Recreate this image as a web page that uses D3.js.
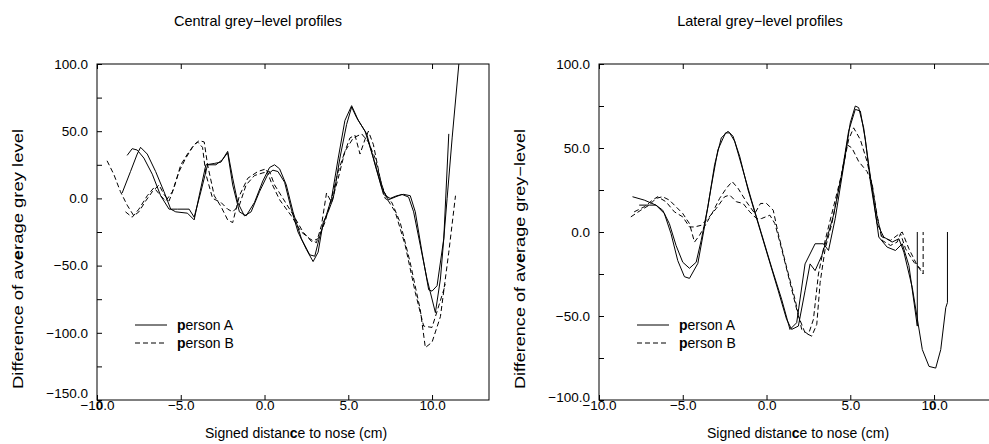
<!DOCTYPE html>
<html>
<head>
<meta charset="utf-8">
<script src="https://cdn.jsdelivr.net/npm/d3@7"></script>
<style>
body { margin: 0; background: #fff; }
svg text { font-family: "Liberation Sans", Arial, sans-serif; fill: #000; }
</style>
</head>
<body>
<div id="main"></div>
<script>
// x tick values shared by both panels
const xTicks = [-10, -5, 0, 5, 10];
const centralYTicks = [-150, -100, -50, 0, 50, 100];
const centralYMinor = [-125, -75, -25, 25, 75];
const lateralYTicks = [-100, -50, 0, 50, 100];
const lateralYMinor = [-75, -25, 25, 75];

// central profiles, person A (solid)
const centralA1 = [[-8.5,4],[-8.0,20],[-7.6,33],[-7.4,38],[-7.0,33],[-6.5,20],[-6.0,5],[-5.6,-8],[-5.3,-10],[-4.6,-11],[-4.2,-16],[-3.9,2],[-3.5,25],[-3.0,26],[-2.6,27],[-2.2,35],[-1.9,15],[-1.6,-3],[-1.2,-13],[-0.8,-10],[-0.3,5],[0.2,18],[0.5,21],[0.8,20],[1.2,12],[1.6,-8],[2.0,-25],[2.5,-38],[2.9,-47],[3.2,-40],[3.5,-18],[3.8,-10],[4.1,0],[4.5,30],[4.9,55],[5.2,68],[5.5,60],[6.0,50],[6.5,30],[7.0,8],[7.4,-1],[7.8,1],[8.2,3],[8.6,1],[8.9,-10],[9.3,-35],[9.7,-60],[10.2,-85],[10.5,-60],[10.9,0],[11.2,45],[11.6,100]];
const centralA2 = [[-8.2,32],[-7.9,37],[-7.6,36],[-7.2,30],[-6.7,18],[-6.2,2],[-5.7,-8],[-5.2,-8],[-4.5,-8],[-4.2,-14],[-3.8,5],[-3.4,25],[-2.9,25],[-2.5,29],[-2.2,34],[-1.9,10],[-1.5,-10],[-1.1,-13],[-0.6,-3],[-0.1,13],[0.3,23],[0.6,25],[0.9,22],[1.3,10],[1.7,-10],[2.2,-30],[2.7,-42],[3.0,-43],[3.3,-28],[3.7,-12],[4.0,0],[4.4,30],[4.8,58],[5.2,69],[5.6,58],[6.1,48],[6.6,25],[7.1,3],[7.5,0],[7.9,2],[8.3,3],[8.7,2],[9.0,-10],[9.4,-40],[9.8,-68],[10.0,-69],[10.3,-65],[10.7,-30],[11.0,48]];
// central profiles, person B (dashed)
const centralB1 = [[-9.4,28],[-9.0,18],[-8.6,5],[-8.2,-5],[-7.8,-13],[-7.5,-10],[-7.1,-2],[-6.7,5],[-6.3,10],[-6.0,3],[-5.7,-2],[-5.4,8],[-5.0,25],[-4.6,33],[-4.2,40],[-3.9,43],[-3.6,42],[-3.4,25],[-3.0,2],[-2.6,-6],[-2.2,-16],[-1.9,-18],[-1.5,2],[-1.0,15],[-0.4,20],[0.1,22],[0.4,12],[0.9,-1],[1.6,-13],[2.2,-25],[2.7,-30],[3.1,-33],[3.4,-20],[3.7,4],[4.0,-3],[4.4,15],[4.8,35],[5.1,45],[5.4,47],[5.7,33],[6.0,44],[6.2,50],[6.5,40],[6.9,15],[7.2,0],[7.6,-3],[8.1,-18],[8.7,-48],[9.3,-83],[9.6,-111],[10.0,-107],[10.5,-88],[11.0,-40],[11.4,2]];
const centralB2 = [[-8.3,-10],[-7.9,-14],[-7.5,-8],[-7.0,2],[-6.6,8],[-6.2,2],[-5.9,-2],[-5.5,5],[-5.1,20],[-4.7,30],[-4.3,38],[-4.0,42],[-3.7,38],[-3.5,18],[-3.1,0],[-2.6,-3],[-2.2,-8],[-1.9,-10],[-1.5,-5],[-1.1,10],[-0.6,17],[-0.1,19],[0.3,20],[0.6,10],[1.1,0],[1.7,-12],[2.3,-25],[2.8,-32],[3.2,-30],[3.6,-18],[4.0,0],[4.4,20],[4.8,35],[5.3,45],[5.8,48],[6.2,42],[6.6,30],[7.0,10],[7.3,0],[7.8,-10],[8.4,-35],[9.0,-70],[9.5,-95],[10.0,-96],[10.4,-80],[10.8,-64]];

// lateral profiles, person A (solid)
const lateralA1 = [[-8.0,21],[-7.3,19],[-6.6,16],[-6.1,11],[-5.7,-1],[-5.3,-17],[-4.9,-26.6],[-4.6,-27.6],[-4.1,-18.7],[-3.74,1],[-3.3,27],[-2.9,49],[-2.45,59],[-2.2,59],[-1.9,54],[-1.5,40],[-0.9,19],[-0.3,-1],[0.3,-21],[0.9,-40],[1.4,-58],[1.8,-54],[2.3,-19],[2.9,-7],[3.4,-7],[3.7,-11],[4.1,8],[4.6,39],[5.0,65],[5.3,75],[5.5,74],[5.8,62],[6.1,40],[6.4,19],[6.7,-3],[7.2,-9],[7.7,-11],[8.1,-7],[8.5,-20],[9.0,-56],[9.0,0]];
const lateralA2 = [[-7.6,16],[-7.0,16],[-6.6,16],[-6.2,13],[-5.8,5],[-5.4,-8],[-5.0,-18],[-4.6,-21.6],[-4.2,-18],[-3.9,-5],[-3.5,15],[-3.1,40],[-2.7,56],[-2.3,60],[-2.0,57],[-1.6,45],[-1.1,25],[-0.5,5],[0.1,-15],[0.7,-35],[1.2,-52],[1.5,-58],[1.9,-56],[2.3,-35],[2.6,-19],[2.9,-23],[3.3,-14],[3.6,-4],[4.0,10],[4.5,35],[4.9,60],[5.3,73],[5.6,72],[5.9,55],[6.2,30],[6.6,5],[7.0,-3],[7.5,-6],[7.9,-4],[8.2,-12],[8.7,-33],[9.3,-70],[9.7,-80],[10.1,-81],[10.4,-70],[10.7,-45],[10.8,-42],[10.8,0]];
// lateral profiles, person B (dashed)
const lateralB1 = [[-8.1,9],[-7.5,13],[-7.0,16],[-6.6,20],[-6.2,21],[-5.8,19],[-5.4,15],[-5.0,11],[-4.6,5],[-4.3,-6],[-4.0,-2],[-3.6,5],[-3.2,12],[-2.8,20],[-2.4,26],[-2.05,30],[-1.7,26],[-1.2,18],[-0.7,11],[-0.36,17],[0.0,17],[0.4,13],[0.7,-1],[1.2,-21],[1.7,-40],[2.1,-58],[2.5,-61],[2.8,-52],[3.1,-25],[3.5,-5],[4.0,15],[4.5,35],[4.9,55],[5.2,62],[5.6,55],[6.0,42],[6.3,28],[6.6,9],[6.9,-3],[7.4,-5],[7.8,-2],[8.1,0],[8.5,-10],[9.0,-20],[9.35,-25],[9.35,0]];
const lateralB2 = [[-7.9,12],[-7.3,15],[-6.8,19],[-6.5,21],[-6.0,18],[-5.5,12],[-5.0,9],[-4.6,3],[-4.3,3],[-3.9,4],[-3.5,8],[-3.0,14],[-2.5,21],[-2.2,22],[-1.8,18],[-1.4,17],[-1.0,12],[-0.6,8],[-0.3,8],[0.2,10],[0.5,5],[0.9,-10],[1.4,-30],[1.9,-50],[2.3,-60],[2.7,-62],[3.0,-55],[3.2,-30],[3.5,-10],[3.9,5],[4.4,30],[4.8,52],[5.1,50],[5.5,42],[6.0,36],[6.3,29],[6.6,10],[6.9,-5],[7.4,-8],[7.8,-6],[8.0,-1],[8.3,-10],[8.8,-18],[9.2,-22]];

const width = 989;
const height = 444;
const fmt = d3.format(".1f");

const svg = d3.select("#main").append("svg")
    .attr("width", width)
    .attr("height", height);

// writes text with a few characters in bold, like the scanned original
const richText = (sel, parts) => {
    parts.forEach(p => {
        sel.append("tspan")
            .attr("font-weight", p[1] ? "bold" : null)
            .text(p[0]);
    });
};

const buildPanel = (cfg) => {
    const top = 64, bottom = 400;

    const x = d3.scaleLinear()
        .domain([-10, 13.4])
        .range([cfg.left, cfg.left + 392]);

    const y = d3.scaleLinear()
        .domain(cfg.yDomain)
        .range([bottom, top]);

    const g = svg.append("g");

    // frame
    g.append("rect")
        .attr("x", x(-10))
        .attr("y", top)
        .attr("width", x(13.4) - x(-10))
        .attr("height", bottom - top)
        .attr("fill", "none")
        .attr("stroke", "#000")
        .attr("stroke-width", 1);

    const yAxis = d3.axisLeft(y)
        .tickValues(cfg.yTicks)
        .tickSizeInner(-5)
        .tickSizeOuter(0)
        .tickPadding(9)
        .tickFormat(fmt);

    g.append("g")
        .attr("transform", `translate(${x(-10)},0)`)
        .call(yAxis)
        .call(a => a.select(".domain").remove())
        .call(a => a.selectAll("text").attr("font-size", 13.5).attr("font-family", null))
        // lowest label sits a little higher, clear of the x labels
        .call(a => a.selectAll(".tick text").filter(d => d === cfg.yDomain[0]).attr("dy", cfg.lowDy));

    g.append("g")
        .attr("transform", `translate(${x(-10)},0)`)
        .call(d3.axisLeft(y).tickValues(cfg.yMinor).tickSizeInner(-5).tickSizeOuter(0).tickFormat(""))
        .call(a => a.select(".domain").remove());

    const xAxis = d3.axisBottom(x)
        .tickValues(xTicks)
        .tickSizeInner(-5)
        .tickSizeOuter(0)
        .tickFormat(fmt);

    g.append("g")
        .attr("transform", `translate(0,${bottom})`)
        .call(xAxis)
        .call(a => a.select(".domain").remove())
        .call(a => a.selectAll("text")
            .attr("font-size", 13.5)
            .attr("font-family", null)
            .attr("y", 0))
        .call(a => a.selectAll(".tick text")
            .filter(d => d === cfg.boldTick)
            .each(function(d) {
                const s = fmt(d);
                const i = s.indexOf("0");
                const t = d3.select(this).text(null);
                richText(t, [[s.slice(0, i), false], ["0", true], [s.slice(i + 1), false]]);
            }));

    g.append("g")
        .attr("transform", `translate(0,${top})`)
        .call(d3.axisTop(x).tickValues(xTicks).tickSizeInner(-5).tickSizeOuter(0).tickFormat(""))
        .call(a => a.select(".domain").remove());

    const line = d3.line()
        .x(d => x(d[0]))
        .y(d => y(d[1]));

    const series = [
        [cfg.a1, null], [cfg.a2, null],
        [cfg.b1, "5,3"], [cfg.b2, "5,3"]
    ];

    g.append("g")
        .selectAll("path")
        .data(series)
        .join("path")
        .attr("fill", "none")
        .attr("stroke", "#000")
        .attr("stroke-width", 1)
        .attr("stroke-dasharray", d => d[1])
        .attr("d", d => line(d[0]));

    // legend
    const lg = g.append("g")
        .attr("transform", `translate(${cfg.left + 38},325)`);
    [["person A", null], ["person B", "5,3"]].forEach((e, i) => {
        lg.append("line")
            .attr("x1", 0).attr("x2", 32)
            .attr("y1", i * 18).attr("y2", i * 18)
            .attr("stroke", "#000")
            .attr("stroke-dasharray", e[1]);
        const t = lg.append("text")
            .attr("x", 42).attr("y", i * 18)
            .attr("dy", "0.35em")
            .attr("font-size", 14);
        richText(t, [["p", true], [e[0].slice(1), false]]);
    });

    // titles
    svg.append("text")
        .attr("x", cfg.left + 161)
        .attr("y", 26)
        .attr("text-anchor", "middle")
        .attr("font-size", 14.5)
        .text(cfg.title);

    const xt = svg.append("text")
        .attr("x", cfg.left + 199)
        .attr("y", 438)
        .attr("text-anchor", "middle")
        .attr("font-size", 14);
    richText(xt, [["Signed distan", false], ["c", true], ["e to nose (cm)", false]]);

    const yt = svg.append("text")
        .attr("transform", `translate(${cfg.left - 74},259) rotate(-90)`)
        .attr("text-anchor", "middle")
        .attr("font-size", 14.5)
        .attr("textLength", 260)
        .attr("lengthAdjust", "spacingAndGlyphs");
    richText(yt, [["Difference of av", false], ["e", true], [cfg.yTitleEnd, false]]);
};

buildPanel({
    left: 97,
    yDomain: [-150, 100],
    yTicks: centralYTicks,
    yMinor: centralYMinor,
    lowDy: "-0.2em",
    boldTick: -10,
    a1: centralA1, a2: centralA2, b1: centralB1, b2: centralB2,
    title: "Central grey\u2212level profiles",
    yTitleEnd: "rage grey level"
});

buildPanel({
    left: 599,
    yDomain: [-100, 100],
    yTicks: lateralYTicks,
    yMinor: lateralYMinor,
    lowDy: "0.1em",
    boldTick: 10,
    a1: lateralA1, a2: lateralA2, b1: lateralB1, b2: lateralB2,
    title: "Lateral grey\u2212level profiles",
    yTitleEnd: "rage grey\u2212level"
});
</script>
</body>
</html>
